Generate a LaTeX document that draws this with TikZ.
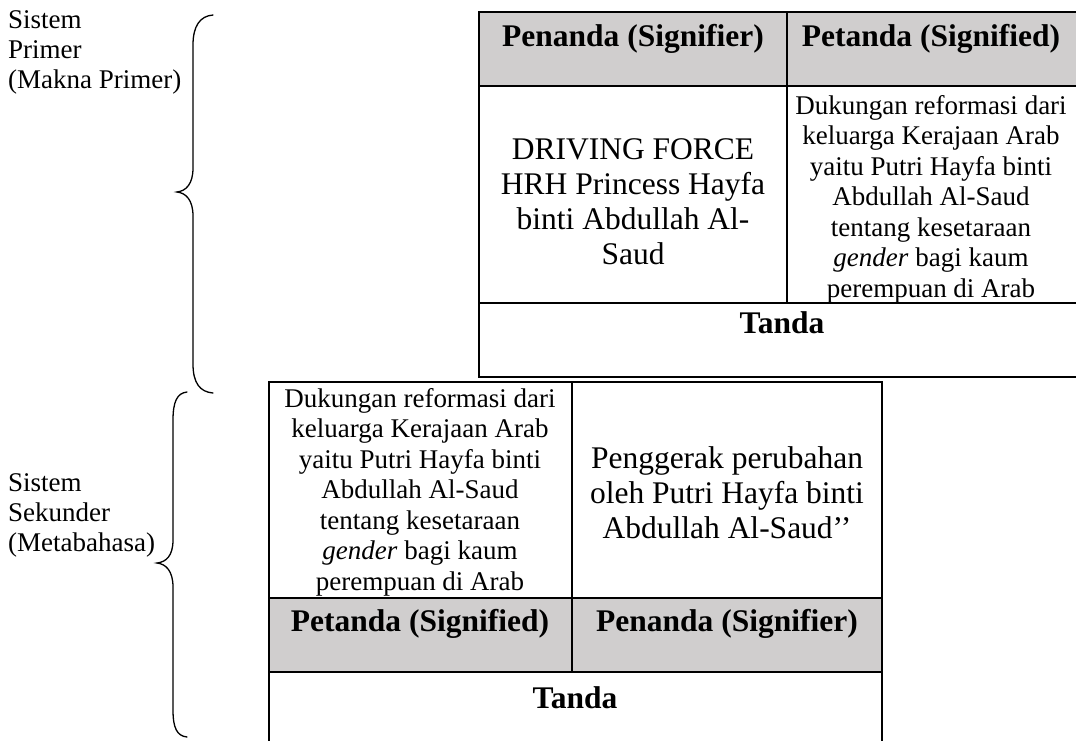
\documentclass[tikz,border=0pt]{standalone}
\usepackage{fontspec}
\setmainfont{Liberation Serif}
\definecolor{cellgray}{RGB}{208,206,206}
\begin{document}
\begin{tikzpicture}[x=1pt,y=-1pt,
  rule/.style={draw=black,line width=1.6pt},
  shade/.style={fill=cellgray},
  brace/.style={draw=black,line width=1.3pt,line cap=round},
  body/.style={font=\fontsize{27}{30.5}\selectfont,align=center,inner sep=0pt},
  big/.style={font=\fontsize{31.5}{35}\selectfont,align=center,inner sep=0pt},
  head/.style={font=\bfseries\fontsize{31.5}{35}\selectfont,inner sep=0pt,anchor=base},
  label/.style={font=\fontsize{27}{30}\selectfont,align=left,inner sep=0pt,anchor=north west}]
\useasboundingbox (0,0) rectangle (1076,740);
\clip (0,0) rectangle (1076,740);

% primary system table
\fill[shade] (479,12) rectangle (1085,86);
\draw[rule] (479,12) rectangle (1085,377);
\draw[rule] (479,86) -- (1085,86);
\draw[rule] (479,303) -- (1085,303);
\draw[rule] (787,12) -- (787,303);

\node[head] (p1) at (633,46) {Penanda (Signifier)};
\node[head] (p2) at (931,46) {Petanda (Signified)};
\node[big] (p3) at (633,202) {DRIVING FORCE\\HRH Princess Hayfa\\binti Abdullah Al-\\Saud};
\node[body] (p4) at (931,199) {Dukungan reformasi dari\\keluarga Kerajaan Arab\\yaitu Putri Hayfa binti\\Abdullah Al-Saud\\tentang kesetaraan\\\textit{gender} bagi kaum\\perempuan di Arab};
\node[head] (p5) at (782,333) {Tanda};

% secondary system table
\fill[shade] (269,598) rectangle (882,672);
\draw[rule] (269,760) -- (269,382) -- (882,382) -- (882,760);
\draw[rule] (269,598) -- (882,598);
\draw[rule] (269,672) -- (882,672);
\draw[rule] (572,382) -- (572,672);

\node[body] (s1) at (420,492) {Dukungan reformasi dari\\keluarga Kerajaan Arab\\yaitu Putri Hayfa binti\\Abdullah Al-Saud\\tentang kesetaraan\\\textit{gender} bagi kaum\\perempuan di Arab};
\node[big] (s2) at (727,493) {Penggerak perubahan\\oleh Putri Hayfa binti\\Abdullah Al-Saud’’};
\node[head] (s3) at (420,631) {Petanda (Signified)};
\node[head] (s4) at (727,631) {Penanda (Signifier)};
\node[head] (s5) at (575,708) {Tanda};

% side labels
\node[label] (l1) at (8,10) {Sistem\\Primer\\(Makna Primer)};
\node[label] (l2) at (8,473) {Sistem\\Sekunder\\(Metabahasa)};

% braces
\draw[brace] (213,15) .. controls (200,16) and (193,26) .. (193,45)
  -- (193,168) .. controls (193,184) and (186,191) .. (177,192)
  .. controls (186,193) and (193,200) .. (193,216)
  -- (193,364) .. controls (193,383) and (200,392) .. (213,393);
\draw[brace] (187,392) .. controls (177,393) and (173,402) .. (173,420)
  -- (173,540) .. controls (173,556) and (166,562) .. (157,563)
  .. controls (166,564) and (173,571) .. (173,587)
  -- (173,710) .. controls (173,728) and (177,736) .. (187,737);
\end{tikzpicture}
\end{document}
